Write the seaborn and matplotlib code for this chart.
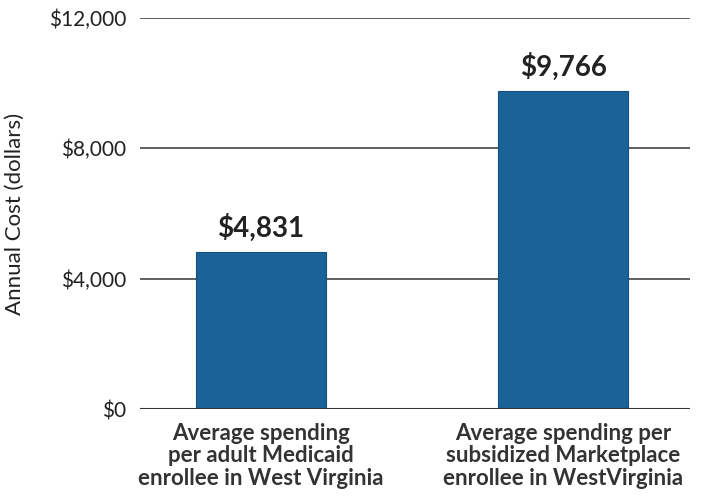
import matplotlib
matplotlib.use("Agg")
import matplotlib.pyplot as plt
import seaborn as sns
import pandas as pd

categories = ["Average spending\nper adult Medicaid\nenrollee in West Virginia",
              "Average spending per\nsubsidized Marketplace\nenrollee in WestVirginia"]
values = [4831, 9766]
value_labels = ["$4,831", "$9,766"]
yticks = [0, 4000, 8000, 12000]
ytick_labels = ["$0", "$4,000", "$8,000", "$12,000"]

sns.set_theme(style="white")
plt.rcParams['font.family'] = ['Lato', 'DejaVu Sans']

df = pd.DataFrame({"cat": categories, "val": values})
fig = plt.figure(figsize=(7.02, 4.97), dpi=100)
ax = fig.add_axes([0.1994, 0.177, 0.7836, 0.7868])

sns.barplot(data=df, x="cat", y="val", color="#1a6399", saturation=1,
            width=0.43, ax=ax, zorder=3)
for p in ax.patches:
    p.set_edgecolor("#15507c")
    p.set_linewidth(0.8)

ax.set_ylim(0, 12000)
ax.set_xlim(-0.40, 1.42)
ax.set_yticks(yticks)
ax.set_yticklabels(ytick_labels, fontsize=15, color="#222222")
ax.tick_params(axis="y", length=0, pad=10)
ax.tick_params(axis="x", length=0, pad=10)
for lab in ax.get_xticklabels():
    lab.set_fontsize(16)
    lab.set_fontweight("bold")
    lab.set_color("#333333")
    lab.set_linespacing(1.08)

for y in yticks[1:]:
    ax.axhline(y, color="#444444", lw=1.2, zorder=1)
ax.axhline(0, color="#333333", lw=1.5, zorder=4)

for s in ["top", "right", "left", "bottom"]:
    ax.spines[s].set_visible(False)

for i, (v, t) in enumerate(zip(values, value_labels)):
    ax.text(i, v + 300, t, ha="center", va="bottom", fontsize=20,
            fontweight="bold", color="#222222")

ax.set_xlabel("")
ax.set_ylabel("Annual Cost (dollars)", fontsize=16, color="#222222", labelpad=17)

fig.savefig("out.png", dpi=100)
